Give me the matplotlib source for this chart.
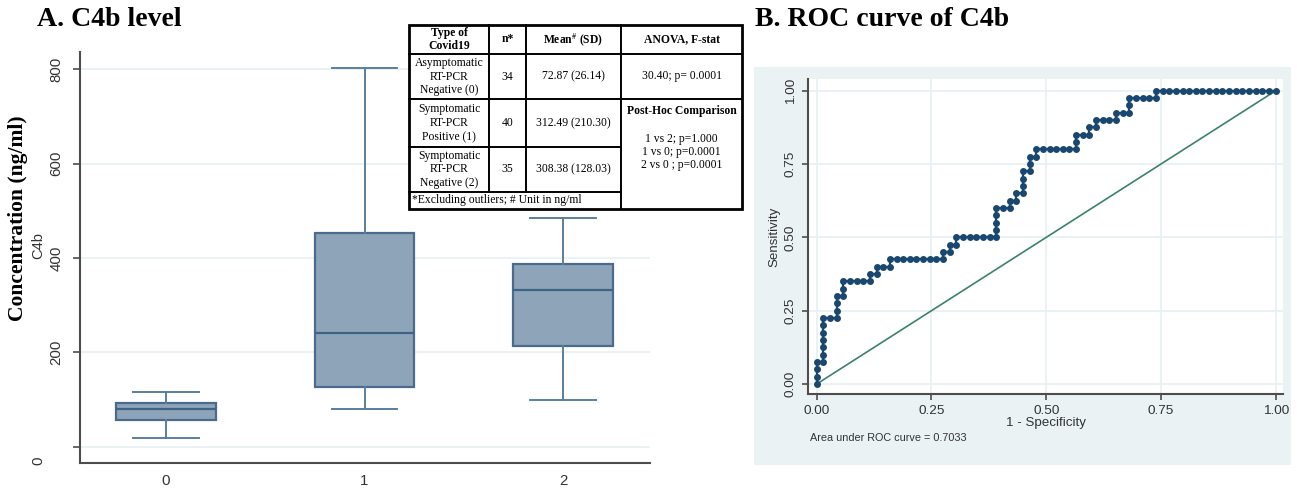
import matplotlib
matplotlib.use("Agg")
import matplotlib.pyplot as plt
from matplotlib.patches import Rectangle
from matplotlib.transforms import ScaledTranslation

# ---- data: C4b level by group (box plot stats, ng/ml) ----
groups = ['0', '1', '2']
whisker_low = [18, 80, 98]
q1 = [56, 126, 214]
median = [79, 240, 332]
q3 = [92, 454, 388]
whisker_high = [116, 804, 484]
conc_ticks = [0, 200, 400, 600, 800]

# ---- data: ROC curve, counts of false positives (of 69) / true positives (of 40) ----
n_neg = 69
n_pos = 40
roc_fp = [0, 0, 0, 0, 1, 1, 1, 1, 1, 1, 1, 2, 3, 3, 3, 3, 4, 4, 4, 5, 6, 7, 8, 8,
          9, 9, 10, 11, 11, 12, 13, 14, 15, 16, 17, 18, 19, 19, 20, 20, 21, 21,
          22, 23, 24, 25, 26, 27, 27, 27, 27, 27, 28, 29, 29, 30, 30,
          31, 31, 31, 31, 32, 32, 32, 33, 33, 34, 35, 36, 37, 38, 39, 39, 39,
          40, 41, 41, 42, 42, 43, 44, 45, 45, 46, 47, 47, 47, 48, 49, 50, 51, 51,
          52, 53, 54, 55, 56, 57, 58, 59, 60, 61, 62, 63, 64, 65, 66, 67, 68, 69]
roc_tp = [0, 1, 2, 3, 3, 4, 5, 6, 7, 8, 9, 9, 9, 10, 11, 12, 12, 13, 14, 14, 14, 14, 14, 15,
          15, 16, 16, 16, 17, 17, 17, 17, 17, 17, 17, 17, 17, 18, 18, 19, 19, 20,
          20, 20, 20, 20, 20, 20, 21, 22, 23, 24, 24, 24, 25, 25, 26,
          26, 27, 28, 29, 29, 30, 31, 31, 32, 32, 32, 32, 32, 32, 32, 33, 34,
          34, 34, 35, 35, 36, 36, 36, 36, 37, 37, 37, 38, 39, 39, 39, 39, 39, 40,
          40, 40, 40, 40, 40, 40, 40, 40, 40, 40, 40, 40, 40, 40, 40, 40, 40, 40]
auc = 0.7033
roc_ticks = [0, 0.25, 0.5, 0.75, 1]

# ---- data: summary table ----
table_header = ['Type of\nCovid19', 'n*', 'Mean$^{\\#}$ (SD)', 'ANOVA, F-stat']
table_types = ['Asymptomatic\nRT-PCR\nNegative (0)', 'Symptomatic\nRT-PCR\nPositive (1)',
               'Symptomatic\nRT-PCR\nNegative (2)']
table_n = ['34', '40', '35']
table_mean = ['72.87 (26.14)', '312.49 (210.30)', '308.38 (128.03)']
anova_text = '30.40; p= 0.0001'
posthoc_title = 'Post-Hoc Comparison'
posthoc = ['1 vs 2; p=1.000', '1 vs 0; p=0.0001', '2 vs 0 ; p=0.0001']
table_note = '*Excluding outliers; # Unit in ng/ml'

W, H = 1297, 488
plt.rcParams['font.family'] = ['Liberation Sans', 'DejaVu Sans']
plt.rcParams['mathtext.fontset'] = 'stix'
fig = plt.figure(figsize=(W / 100, H / 100), dpi=100)

def fig_rect(x0, y0, x1, y1):
    # pixel box (top-left origin) -> figure fraction
    return [x0 / W, 1 - y1 / H, (x1 - x0) / W, (y1 - y0) / H]

grid_c = '#e8f0f1'
spine_c = '#4d4d4d'
text_c = '#333333'
serif = ['Liberation Serif', 'DejaVu Serif']

# ================= A. box plot =================
ax = fig.add_axes(fig_rect(80, 52, 650, 463))
stats = []
for i in range(len(groups)):
    stats.append({'whislo': whisker_low[i], 'q1': q1[i], 'med': median[i],
                  'q3': q3[i], 'whishi': whisker_high[i], 'fliers': []})
box_edge = '#4a6b8c'
ax.bxp(stats, positions=range(len(groups)), widths=0.5, capwidths=0.33,
       patch_artist=True, showfliers=False,
       boxprops=dict(facecolor='#8ea5b9', edgecolor=box_edge, linewidth=1.6),
       medianprops=dict(color='#3f6285', linewidth=1.6),
       whiskerprops=dict(color='#5b7e9e', linewidth=1.4),
       capprops=dict(color='#5b7e9e', linewidth=1.4))
ax.set_xlim(-0.433, 2.438)
ax.set_ylim(-35, 837)
ax.set_yticks(conc_ticks)
ax.set_yticklabels([str(t) for t in conc_ticks], rotation=90, va='center')
ax.set_xticks(range(len(groups)))
ax.set_xticklabels(groups)
ax.grid(axis='y', color=grid_c, linewidth=1.2)
ax.set_axisbelow(True)
for s in ['top', 'right']:
    ax.spines[s].set_visible(False)
for s in ['left', 'bottom']:
    ax.spines[s].set_color(spine_c)
    ax.spines[s].set_linewidth(1.5)
ax.tick_params(axis='y', length=5, width=1.2, color=spine_c, labelsize=10.8,
               labelcolor=text_c, pad=7)
ax.tick_params(axis='x', length=0, labelsize=10.8, labelcolor=text_c, pad=8)
ax.set_ylabel('C4b', fontsize=10.6, color=text_c)
ax.yaxis.set_label_coords(-0.061, 0.53)
zero_lbl = ax.get_yticklabels()[0]
zero_lbl.set_transform(zero_lbl.get_transform() +
                       ScaledTranslation(-0.18, -0.14, fig.dpi_scale_trans))

# ================= B. ROC panel =================
bg = fig.add_axes(fig_rect(754, 67, 1291, 465))
bg.set_facecolor('#eaf2f3')
bg.set_xticks([])
bg.set_yticks([])
for s in bg.spines.values():
    s.set_visible(False)
bg.set_zorder(0)

ax2 = fig.add_axes(fig_rect(808, 79, 1283, 394))
ax2.set_zorder(1)
fpr = [k / n_neg for k in roc_fp]
tpr = [j / n_pos for j in roc_tp]
ax2.plot([0, 1], [0, 1], color='#3a826e', linewidth=1.2, zorder=2)
ax2.plot(fpr, tpr, color='#1a476f', linewidth=1.6, marker='o', markersize=5,
         markeredgewidth=0, zorder=3)
ax2.set_xlim(-0.019, 1.016)
ax2.set_ylim(-0.034, 1.04)
ax2.set_xticks(roc_ticks)
ax2.set_xticklabels(['%.2f' % t for t in roc_ticks])
ax2.set_yticks(roc_ticks)
ax2.set_yticklabels(['%.2f' % t for t in roc_ticks], rotation=90, va='center')
ax2.grid(color=grid_c, linewidth=1.2)
ax2.set_axisbelow(True)
for s in ['top', 'right']:
    ax2.spines[s].set_visible(False)
for s in ['left', 'bottom']:
    ax2.spines[s].set_color(spine_c)
    ax2.spines[s].set_linewidth(1.5)
ax2.tick_params(length=4, width=1.2, color=spine_c, labelsize=9.7,
                labelcolor=text_c, pad=4)
ax2.set_xlabel('1 - Specificity', fontsize=9.6, color=text_c, labelpad=0)
ax2.set_ylabel('Sensitivity', fontsize=9.6, color=text_c, labelpad=3)

# ================= overlay: titles, labels, table =================
ov = fig.add_axes([0, 0, 1, 1])
ov.set_xlim(0, W)
ov.set_ylim(H, 0)
ov.axis('off')
ov.set_zorder(5)

ov.text(37, 20, 'A. C4b level', fontsize=20, fontweight='bold', family=serif,
        ha='left', va='center')
ov.text(755, 20, 'B. ROC curve of C4b', fontsize=20, fontweight='bold', family=serif,
        ha='left', va='center')
ov.text(18, 218, 'Concentration (ng/ml)', fontsize=15.5, fontweight='bold', family=serif,
        rotation=90, ha='center', va='center')
ov.text(810, 438, 'Area under ROC curve = %.4f' % auc, fontsize=7.8, color=text_c,
        ha='left', va='center')

# table geometry (pixels)
cx = [409, 489, 526, 621, 742]
ry = [25, 54, 99, 147, 192, 209]
ov.add_patch(Rectangle((cx[0], ry[0]), cx[-1] - cx[0], ry[-1] - ry[0],
                       facecolor='white', edgecolor='black', linewidth=2))
lw = 1.4
ov.plot([cx[0], cx[-1]], [ry[1], ry[1]], color='black', lw=lw)
ov.plot([cx[0], cx[-1]], [ry[2], ry[2]], color='black', lw=lw)
ov.plot([cx[0], cx[3]], [ry[3], ry[3]], color='black', lw=lw)
ov.plot([cx[0], cx[3]], [ry[4], ry[4]], color='black', lw=lw)
for x in cx[1:3]:
    ov.plot([x, x], [ry[0], ry[4]], color='black', lw=lw)
ov.plot([cx[3], cx[3]], [ry[0], ry[5]], color='black', lw=lw)

fs = 8.4
col_mid = [(cx[i] + cx[i + 1]) / 2 for i in range(4)]
row_mid = [(ry[i] + ry[i + 1]) / 2 for i in range(5)]
for i, h in enumerate(table_header):
    ov.text(col_mid[i], row_mid[0], h, fontsize=fs, fontweight='bold', family=serif,
            ha='center', va='center', linespacing=1.15)
for r in range(3):
    ov.text(col_mid[0], row_mid[r + 1], table_types[r], fontsize=fs, family=serif,
            ha='center', va='center', linespacing=1.2)
    ov.text(col_mid[1], row_mid[r + 1], table_n[r], fontsize=fs, family=serif,
            ha='center', va='center')
    ov.text(col_mid[2], row_mid[r + 1], table_mean[r], fontsize=fs, family=serif,
            ha='center', va='center')
ov.text(col_mid[3], row_mid[1], anova_text, fontsize=fs, family=serif,
        ha='center', va='center')
ov.text(col_mid[3], 111, posthoc_title, fontsize=fs, fontweight='bold', family=serif,
        ha='center', va='center')
ov.text(col_mid[3], 152, '\n'.join(posthoc), fontsize=fs, family=serif,
        ha='center', va='center', linespacing=1.1)
ov.text(cx[0] + 3, row_mid[4], table_note, fontsize=fs, family=serif,
        ha='left', va='center')

fig.savefig('out.png', dpi=100)
